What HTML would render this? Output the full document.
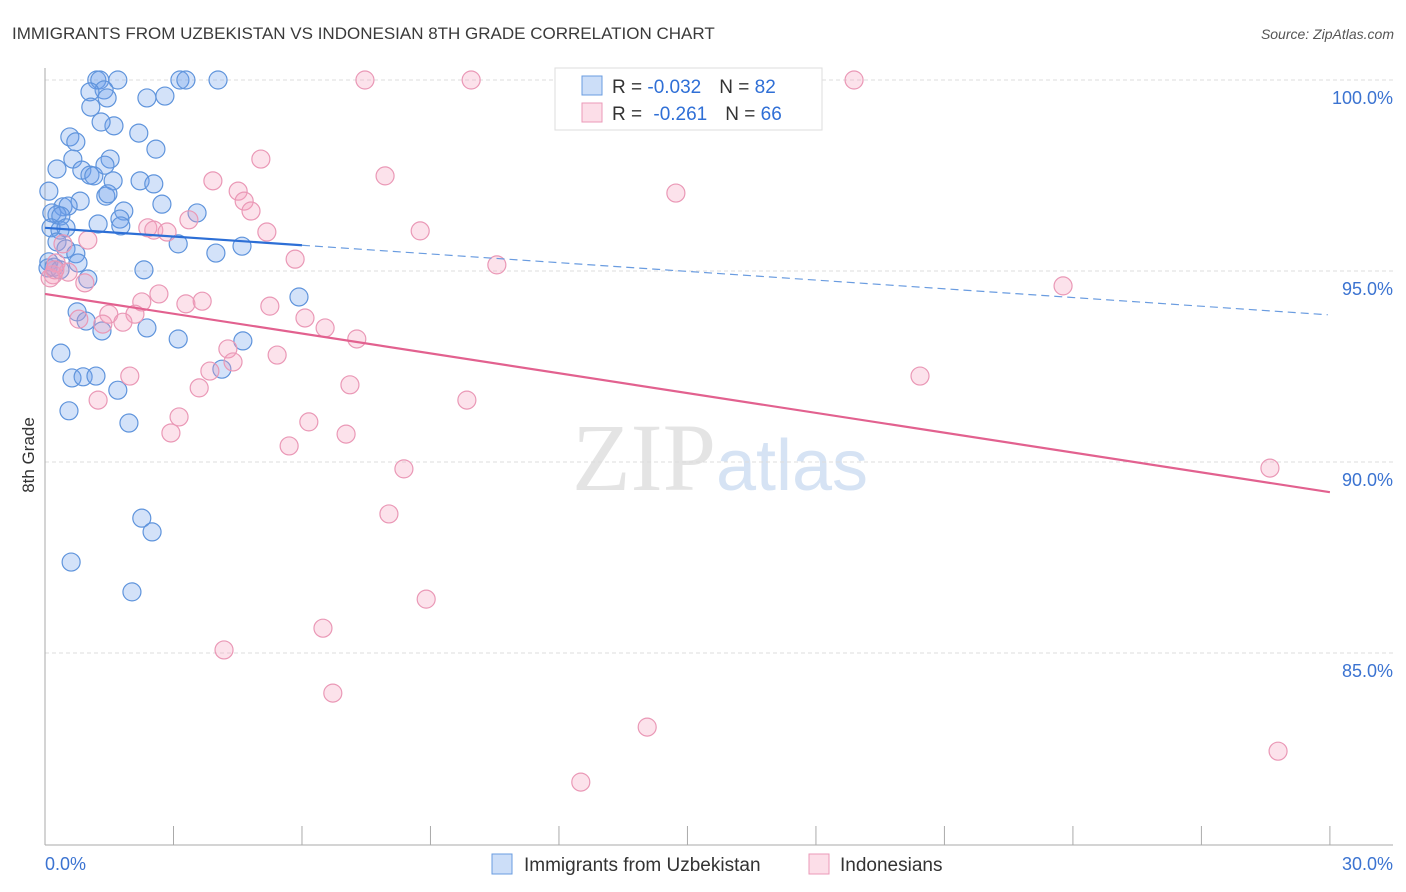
<!DOCTYPE html>
<html><head><meta charset="utf-8"><style>
body{margin:0;background:#fff;font-family:"Liberation Sans",sans-serif;}
svg{display:block}
</style></head><body>
<svg id="chart" width="1406" height="892">
<text x="12" y="39" font-size="17" fill="#3a3a3a">IMMIGRANTS FROM UZBEKISTAN VS INDONESIAN 8TH GRADE CORRELATION CHART</text>
<text x="1394" y="39" font-size="14" fill="#555" font-style="italic" text-anchor="end">Source: ZipAtlas.com</text>
<text x="720" y="490" font-size="96" fill="#e4e4e4" text-anchor="middle" font-family="Liberation Serif,serif">ZIP<tspan fill="#d6e3f4" font-family="Liberation Sans,sans-serif" font-size="72">atlas</tspan></text>
<g id="grid"></g>
<g id="axes"></g>
<g id="marks"></g>
<text transform="translate(34,455) rotate(-90)" font-size="17" fill="#333" text-anchor="middle">8th Grade</text>
<g>
<rect x="555" y="68" width="267" height="62" fill="#fff" stroke="#ddd"/>
<rect x="582" y="76" width="20" height="19" fill="rgba(110,160,235,0.35)" stroke="#6a9ce0"/>
<rect x="582" y="103" width="20" height="19" fill="rgba(245,160,190,0.35)" stroke="#eb9ab8"/>
<text x="612" y="93" font-size="19" fill="#333">R = <tspan fill="#2f6fd6">-0.032</tspan><tspan dx="18">N = </tspan><tspan fill="#2f6fd6">82</tspan></text>
<text x="612" y="120" font-size="19" fill="#333">R = <tspan dx="6" fill="#2f6fd6">-0.261</tspan><tspan dx="18">N = </tspan><tspan fill="#2f6fd6">66</tspan></text>
</g>
<g>
<rect x="492" y="854" width="20" height="20" fill="rgba(110,160,235,0.35)" stroke="#6a9ce0"/>
<text x="524" y="871" font-size="19" fill="#333">Immigrants from Uzbekistan</text>
<rect x="809" y="854" width="20" height="20" fill="rgba(245,160,190,0.35)" stroke="#eb9ab8"/>
<text x="840" y="871" font-size="19" fill="#333">Indonesians</text>
</g>
</svg>
<script>
const blueX=[1.21,1.28,1.70,3.15,3.29,4.04,1.38,1.05,1.45,2.38,2.80,1.07,0.58,1.61,2.19,1.31,0.72,2.59,0.65,1.52,0.28,0.86,1.05,1.14,1.40,2.22,2.54,1.59,0.09,1.42,1.47,0.82,2.73,3.55,0.42,0.54,1.84,0.16,0.28,0.37,1.24,1.75,1.77,0.14,0.35,0.49,3.11,3.99,4.60,0.28,0.49,0.72,0.77,0.09,2.31,1.00,0.07,5.93,0.75,0.96,1.33,2.38,3.11,4.62,0.37,4.13,0.63,0.89,1.19,1.70,0.56,1.96,2.26,2.50,0.61,2.03,0.21,0.35];
const blueY=[100,100,100,100,100,100,99.74,99.69,99.53,99.53,99.58,99.29,98.51,98.80,98.61,98.90,98.38,98.19,97.93,97.93,97.67,97.64,97.51,97.49,97.77,97.36,97.28,97.36,97.09,96.96,97.02,96.83,96.75,96.52,96.68,96.70,96.57,96.52,96.47,96.44,96.23,96.36,96.18,96.13,96.07,96.13,95.71,95.47,95.65,95.76,95.58,95.45,95.21,95.24,95.03,94.79,95.08,94.32,93.93,93.69,93.43,93.51,93.22,93.17,92.85,92.43,92.20,92.23,92.25,91.88,91.34,91.02,88.53,88.17,87.38,86.60,95.10,95.03];
const pinkX=[7.47,9.95,18.89,5.04,3.92,7.94,4.51,4.65,4.81,14.73,3.36,2.40,2.54,2.85,5.18,8.76,1.00,0.42,0.26,5.84,10.55,0.19,0.54,0.93,23.77,2.66,3.29,3.67,5.25,2.26,2.10,1.49,0.79,1.35,1.82,6.07,6.54,7.28,4.27,4.39,5.42,3.85,1.98,20.43,3.60,7.12,1.24,9.85,3.13,6.16,2.94,7.03,5.70,8.38,28.60,8.03,8.90,6.49,4.18,6.72,14.06,28.79,12.51,0.12,0.23];
const pinkY=[100,100,100,97.93,97.36,97.49,97.09,96.83,96.57,97.04,96.34,96.13,96.07,96.02,96.02,96.05,95.81,95.71,95.21,95.31,95.16,94.90,94.97,94.69,94.61,94.40,94.14,94.21,94.08,94.19,93.87,93.87,93.74,93.61,93.66,93.77,93.51,93.22,92.96,92.62,92.80,92.38,92.25,92.25,91.94,92.02,91.62,91.62,91.18,91.05,90.76,90.73,90.42,89.82,89.84,88.64,86.41,85.65,85.08,83.95,83.06,82.43,81.62,94.82,95.03];
const yTicks=[100,95,90,85];
const yTickLabels=["100.0%","95.0%","90.0%","85.0%"];
const blueTrend=[96.13,93.85];
const pinkTrend=[94.40,89.21];
const NS="http://www.w3.org/2000/svg";
const sx=v=>45+v*42.83;
const sy=v=>80+(100-v)*38.2;
function mk(tag,attrs,parent){const e=document.createElementNS(NS,tag);for(const k in attrs)e.setAttribute(k,attrs[k]);parent.appendChild(e);return e;}
const grid=document.getElementById('grid'),axes=document.getElementById('axes'),marks=document.getElementById('marks');
yTicks.forEach((t,i)=>{
 const l=mk('line',{x1:45,x2:1393,y1:sy(t),y2:sy(t),stroke:'#ddd','stroke-dasharray':'4,3'},grid);
 
 
 const tx=mk('text',{x:1393,y:sy(t)+24,'font-size':18,fill:'#3b73d1','text-anchor':'end'},grid);
 tx.textContent=yTickLabels[i];
 
 
});
const ya=mk('line',{x1:45,x2:45,y1:68,y2:845,stroke:'#aaa'},axes);


const xa=mk('line',{x1:45,x2:1393,y1:845,y2:845,stroke:'#aaa'},axes);


for(let i=0;i<=10;i++){const t=mk('line',{x1:sx(i*3),x2:sx(i*3),y1:826,y2:845,stroke:'#aaa'},axes);
 
 }
const x0=mk('text',{x:45,y:870,'font-size':18,fill:'#3b73d1'},axes);x0.textContent='0.0%';


const x1=mk('text',{x:1393,y:870,'font-size':18,fill:'#3b73d1','text-anchor':'end'},axes);x1.textContent='30.0%';


function pts(X,Y,fill,stroke,name){X.forEach((x,i)=>{const c=mk('circle',{cx:sx(x),cy:sy(Y[i]),r:9,fill:fill,stroke:stroke,'stroke-width':1.2},marks);
 
 });}
pts(blueX,blueY,'rgba(110,160,235,0.3)','#5f94dc','point-uzbekistan');
pts(pinkX,pinkY,'rgba(245,160,190,0.3)','#ea98b6','point-indonesian');
const bv=x=>blueTrend[0]+(blueTrend[1]-blueTrend[0])*x/30;
const b1=mk('line',{x1:sx(0),y1:sy(bv(0)),x2:sx(6),y2:sy(bv(6)),stroke:'#2d6fd6','stroke-width':2.2},marks);


const b2=mk('line',{x1:sx(6),y1:sy(bv(6)),x2:sx(29.95),y2:sy(bv(29.95)),stroke:'#6a9ce0','stroke-width':1.2,'stroke-dasharray':'8,5'},marks);


const p1=mk('line',{x1:sx(0),y1:sy(pinkTrend[0]),x2:sx(30),y2:sy(pinkTrend[1]),stroke:'#e2618f','stroke-width':2.2},marks);


</script>
</body></html>
